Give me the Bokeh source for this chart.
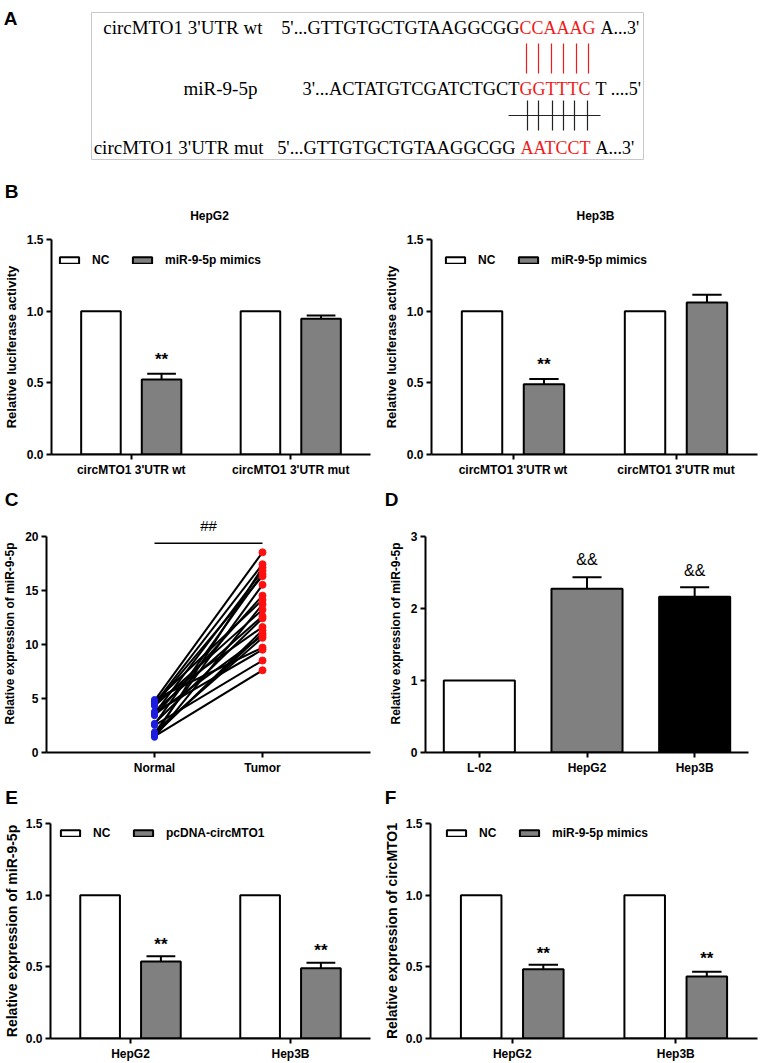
from bokeh.plotting import figure
from bokeh.models import (Range1d, FactorRange, FixedTicker, PrintfTickFormatter,
                          Legend, LegendItem, ColumnDataSource)
from bokeh.transform import dodge
from bokeh.layouts import column, row
from bokeh.embed import file_html
from bokeh.resources import INLINE
from bokeh.core.properties import value

SANS = "Liberation Sans"
SERIF = "Liberation Serif"
GRAY = "#808080"
RED = "#f01a1a"

# ---------------- data ----------------
# Panel A (sequence alignment)
a_labels = ["circMTO1 3'UTR wt", "miR-9-5p", "circMTO1 3'UTR mut"]
a_seq = ["5'...GTTGTGCTGTAAGGCGG", "3'...ACTATGTCGATCTGCT", "5'...GTTGTGCTGTAAGGCGG"]
a_site = ["CCAAAG", "GGTTTC", "AATCCT"]
a_tail = ["A...3'", "T ....5'", "A...3'"]

# Panel letters
panel_letters = ["A", "B", "C", "D", "E", "F"]

# Panel B
b_titles = ["HepG2", "Hep3B"]
b_cats = ["circMTO1 3'UTR wt", "circMTO1 3'UTR mut"]
b_groups = ["NC", "miR-9-5p mimics"]
b_hepg2_nc = [1.0, 1.0]
b_hepg2_mimic = [0.523, 0.947]
b_hepg2_err = [0.040, 0.023]
b_hepg2_sig = ["**", ""]
b_hepg2_sig_y = [0.665, 0.0]
b_hep3b_nc = [1.0, 1.0]
b_hep3b_mimic = [0.490, 1.060]
b_hep3b_err = [0.037, 0.055]
b_hep3b_sig = ["**", ""]
b_hep3b_sig_y = [0.627, 0.0]

# Panel C (paired samples)
c_groups = ["Normal", "Tumor"]
c_normal = [4.8, 4.5, 1.5, 3.6, 2.6, 4.4, 1.8, 3.4, 4.7, 1.4, 3.8,
            2.7, 4.6, 1.6, 3.5, 1.9, 4.9, 3.7, 2.5, 1.5, 4.3, 1.7]
c_tumor = [18.5, 17.4, 17.1, 16.8, 16.5, 16.3, 15.5, 14.5, 14.1, 13.7, 12.6,
           12.4, 11.6, 11.3, 10.8, 10.6, 9.7, 9.5, 8.5, 7.6, 13.2, 11.0]
c_sig = "##"
c_sig_y = 21.0
c_sig_line_y = 19.35

# Panel D
d_cats = ["L-02", "HepG2", "Hep3B"]
d_vals = [1.0, 2.27, 2.16]
d_err = [0.0, 0.16, 0.13]
d_colors = ["white", GRAY, "black"]
d_sig = ["", "&&", "&&"]
d_sig_y = [0.0, 2.68, 2.53]

# Panel E
e_cats = ["HepG2", "Hep3B"]
e_groups = ["NC", "pcDNA-circMTO1"]
e_nc = [1.0, 1.0]
e_pcdna = [0.537, 0.490]
e_err = [0.037, 0.038]
e_sig = ["**", "**"]
e_sig_y = [0.655, 0.611]

# Panel F
f_cats = ["HepG2", "Hep3B"]
f_groups = ["NC", "miR-9-5p mimics"]
f_nc = [1.0, 1.0]
f_mimic = [0.484, 0.433]
f_err = [0.030, 0.032]
f_sig = ["**", "**"]
f_sig_y = [0.590, 0.557]

bar_ticks = [0, 0.5, 1.0, 1.5]

# ---------------- geometry (reference pixels) ----------------
PAGE_W = 761


def bare_fig(y0, y1):
    p = figure(width=PAGE_W, height=y1 - y0, x_range=Range1d(0, 761),
               y_range=Range1d(y1, y0), output_backend="svg", toolbar_location=None,
               tools="", x_axis_location=None, y_axis_location=None, min_border=0)
    p.outline_line_color = None
    p.xgrid.visible = False
    p.ygrid.visible = False
    return p


def letter_strip(y0, y1, letters, xs, y):
    p = bare_fig(y0, y1)
    p.text(x=xs, y=[y] * len(xs), text=letters, text_align="center",
           text_baseline="middle", text_font=value(SANS), text_font_style="bold",
           text_font_size="19px", text_color="black")
    return p


def make_fig(outer, frame, x_range, y_range):
    x0, y0, x1, y1 = outer
    fl, ft, fr, fb = frame
    p = figure(width=x1 - x0, height=y1 - y0,
               x_range=x_range, y_range=y_range, output_backend="svg",
               toolbar_location=None, tools="")
    p.min_border_left = int(round(fl - x0))
    p.min_border_right = int(round(x1 - fr))
    p.min_border_top = int(round(ft - y0))
    p.min_border_bottom = int(round(y1 - fb))
    p.outline_line_color = None
    p.xgrid.visible = False
    p.ygrid.visible = False
    return p


def style_axes(p, ylabel, ylabel_size, standoff=5):
    for ax in p.axis:
        ax.axis_line_width = 2
        ax.axis_line_color = "black"
        ax.major_tick_line_width = 2
        ax.major_tick_line_color = "black"
        ax.major_tick_out = 5
        ax.major_tick_in = 0
        ax.minor_tick_line_color = None
        ax.major_label_text_font = SANS
        ax.major_label_text_font_style = "bold"
        ax.major_label_text_font_size = "12px"
        ax.major_label_text_color = "black"
        ax.major_label_standoff = 3
    p.yaxis.axis_label = ylabel
    p.yaxis.axis_label_text_font = SANS
    p.yaxis.axis_label_text_font_style = "bold"
    p.yaxis.axis_label_text_font_size = ylabel_size
    p.yaxis.axis_label_text_color = "black"
    p.yaxis.axis_label_standoff = standoff


def bar_panel(outer, frame, cats, groups, nc, trt, err, sig, sig_y, ylabel,
              ylabel_size, legend_pos, standoff=5):
    p = make_fig(outer, frame, FactorRange(factors=cats), Range1d(0, 1.5))
    src = ColumnDataSource(dict(cat=cats, nc=nc, trt=trt,
                                up=[t + e for t, e in zip(trt, err)],
                                sig=sig, sig_y=sig_y))
    off, w, cap = 0.19, 0.248, 0.09
    xr = p.x_range
    r_nc = p.vbar(x=dodge("cat", -off, range=xr), top="nc", bottom=0, width=w,
                  source=src, fill_color="white", line_color="black", line_width=2)
    r_tr = p.vbar(x=dodge("cat", off, range=xr), top="trt", bottom=0, width=w,
                  source=src, fill_color=GRAY, line_color="black", line_width=2)
    p.segment(x0=dodge("cat", off, range=xr), x1=dodge("cat", off, range=xr),
              y0="trt", y1="up", source=src, line_color="black", line_width=2)
    p.segment(x0=dodge("cat", off - cap, range=xr), x1=dodge("cat", off + cap, range=xr),
              y0="up", y1="up", source=src, line_color="black", line_width=2)
    p.text(x=dodge("cat", off, range=xr), y="sig_y", text="sig", source=src,
           text_align="center", text_baseline="middle", text_font=value(SANS),
           text_font_style="bold", text_font_size="17px", text_color="black")
    p.yaxis.ticker = FixedTicker(ticks=bar_ticks)
    p.yaxis.formatter = PrintfTickFormatter(format="%.1f")
    style_axes(p, ylabel, ylabel_size, standoff)
    fl, ft, fr, fb = frame
    fh = fb - ft
    lh = 16
    vx = legend_pos[0] - fl
    vy = fh - (legend_pos[1] - ft) - lh / 2
    leg = Legend(items=[LegendItem(label=groups[0], renderers=[r_nc]),
                        LegendItem(label=groups[1], renderers=[r_tr])],
                 orientation="horizontal", location=(vx, vy), glyph_width=24,
                 glyph_height=8, label_standoff=11, spacing=18, padding=0, margin=0,
                 label_height=lh, border_line_color=None, background_fill_alpha=0,
                 label_text_font=SANS, label_text_font_style="bold",
                 label_text_font_size="12px", label_text_color="black")
    p.add_layout(leg)
    return p


# ---------------- Panel A ----------------
pA = bare_fig(0, 170)
pA.quad(left=[91], right=[643], top=[12], bottom=[159], fill_color=None,
        line_color="#c8c8c8", line_width=1)
row_y = [27, 88, 147]
label_x = [262, 183, 263]
label_align = ["right", "left", "right"]
seq_right = [519, 519, 515]
site_left = [519, 519, 520]
tail_left = [600, 595, 595]
for i in range(3):
    pA.text(x=[label_x[i]], y=[row_y[i]], text=[a_labels[i]], text_align=label_align[i],
            text_baseline="middle", text_font=value(SERIF), text_font_size="19px",
            text_color="black")
    pA.text(x=[seq_right[i]], y=[row_y[i]], text=[a_seq[i]], text_align="right",
            text_baseline="middle", text_font=value(SERIF), text_font_size="18.4px",
            text_color="black")
    pA.text(x=[site_left[i]], y=[row_y[i]], text=[a_site[i]], text_align="left",
            text_baseline="middle", text_font=value(SERIF), text_font_size="18px",
            text_color=RED)
    pA.text(x=[tail_left[i]], y=[row_y[i]], text=[a_tail[i]], text_align="left",
            text_baseline="middle", text_font=value(SERIF), text_font_size="18px",
            text_color="black")
red_x = [526, 538, 551, 563, 576, 588]
blk_x = [527, 538, 552, 563, 574, 587]
pA.segment(x0=red_x, x1=red_x, y0=[43] * 6, y1=[73] * 6, line_color=RED, line_width=1.2)
pA.segment(x0=blk_x, x1=blk_x, y0=[100] * 6, y1=[130] * 6, line_color="#222222", line_width=1.2)
pA.segment(x0=[508], x1=[600], y0=[115], y1=[115], line_color="#222222", line_width=1.2)
pA.text(x=[10], y=[17.5], text=[panel_letters[0]], text_align="center", text_baseline="middle",
        text_font=value(SANS), text_font_style="bold", text_font_size="19px",
        text_color="black")

# ---------------- Panel B ----------------
sB = letter_strip(170, 226, [panel_letters[1]], [11], 191)
sB.text(x=[209, 595], y=[215, 215], text=b_titles, text_align="center",
        text_baseline="middle", text_font=value(SANS), text_font_style="bold",
        text_font_size="12px", text_color="black")
pBl = bar_panel((0, 226, 380, 480), (47, 239, 370, 454), b_cats, b_groups,
                b_hepg2_nc, b_hepg2_mimic, b_hepg2_err, b_hepg2_sig, b_hepg2_sig_y,
                "Relative luciferase activity", "13px", (53, 260))
pBr = bar_panel((380, 226, 761, 480), (427, 239, 757, 454), b_cats, b_groups,
                b_hep3b_nc, b_hep3b_mimic, b_hep3b_err, b_hep3b_sig, b_hep3b_sig_y,
                "Relative luciferase activity", "13px", (439, 260))

# ---------------- Panel C ----------------
sCD = letter_strip(480, 510, [panel_letters[2], panel_letters[3]], [11, 391], 499)
c_frame = (45, 514.4, 370, 752)
pC = make_fig((0, 510, 380, 782), c_frame, Range1d(0, 3), Range1d(0, 22))
n = len(c_normal)
csrc = ColumnDataSource(dict(x0=[1] * n, x1=[2] * n, y0=c_normal, y1=c_tumor))
pC.segment(x0="x0", y0="y0", x1="x1", y1="y1", source=csrc, line_color="black", line_width=2)
pC.scatter(x="x0", y="y0", source=csrc, size=6, fill_color="#1c1ce0", line_color="#1c1ce0")
pC.scatter(x="x1", y="y1", source=csrc, size=7, fill_color="#ff1010", line_color="#ff1010")
pC.segment(x0=[1], x1=[2], y0=[c_sig_line_y], y1=[c_sig_line_y], line_color="black", line_width=1.5)
pC.text(x=[1.5], y=[c_sig_y], text=[c_sig], text_align="center", text_baseline="middle",
        text_font=value(SANS), text_font_size="15px", text_color="black")
pC.xaxis.ticker = FixedTicker(ticks=[1, 2])
pC.xaxis.major_label_overrides = {1: c_groups[0], 2: c_groups[1]}
pC.yaxis.ticker = FixedTicker(ticks=[0, 5, 10, 15, 20])
pC.yaxis.bounds = (0, 20)
style_axes(pC, "Relative expression of miR-9-5p", "12px")

# ---------------- Panel D ----------------
d_frame = (425, 514.4, 748, 752)
pD = make_fig((380, 510, 761, 782), d_frame, FactorRange(factors=d_cats), Range1d(0, 3.3))
dsrc = ColumnDataSource(dict(cat=d_cats, val=d_vals, col=d_colors))
pD.vbar(x="cat", top="val", bottom=0, width=0.66, source=dsrc, fill_color="col",
        line_color="black", line_width=2)
keep = [i for i in range(len(d_cats)) if d_err[i] > 0]
desrc = ColumnDataSource(dict(cat=[d_cats[i] for i in keep],
                              val=[d_vals[i] for i in keep],
                              up=[d_vals[i] + d_err[i] for i in keep],
                              sig=[d_sig[i] for i in keep],
                              sig_y=[d_sig_y[i] for i in keep]))
pD.segment(x0="cat", x1="cat", y0="val", y1="up", source=desrc, line_color="black", line_width=2)
pD.segment(x0=dodge("cat", -0.135, range=pD.x_range), x1=dodge("cat", 0.135, range=pD.x_range),
           y0="up", y1="up", source=desrc, line_color="black", line_width=2)
pD.text(x="cat", y="sig_y", text="sig", source=desrc, text_align="center",
        text_baseline="middle", text_font=value(SANS), text_font_size="16px", text_color="black")
pD.yaxis.ticker = FixedTicker(ticks=[0, 1, 2, 3])
pD.yaxis.bounds = (0, 3)
style_axes(pD, "Relative expression of miR-9-5p", "12px")

# ---------------- Panels E, F ----------------
sEF = letter_strip(782, 812, [panel_letters[4], panel_letters[5]], [11, 390], 797)
pE = bar_panel((0, 812, 380, 1063), (45, 823, 370, 1038), e_cats, e_groups,
               e_nc, e_pcdna, e_err, e_sig, e_sig_y,
               "Relative expression of miR-9-5p", "14px", (53, 833), 3)
pF = bar_panel((380, 812, 761, 1063), (425, 823, 757, 1038), f_cats, f_groups,
               f_nc, f_mimic, f_err, f_sig, f_sig_y,
               "Relative expression of circMTO1", "14px", (439, 833), 3)

layout = column(pA, sB, row(pBl, pBr), sCD, row(pC, pD), sEF, row(pE, pF))
open("out.html", "w").write(file_html(layout, INLINE, "circMTO1 / miR-9-5p"))
